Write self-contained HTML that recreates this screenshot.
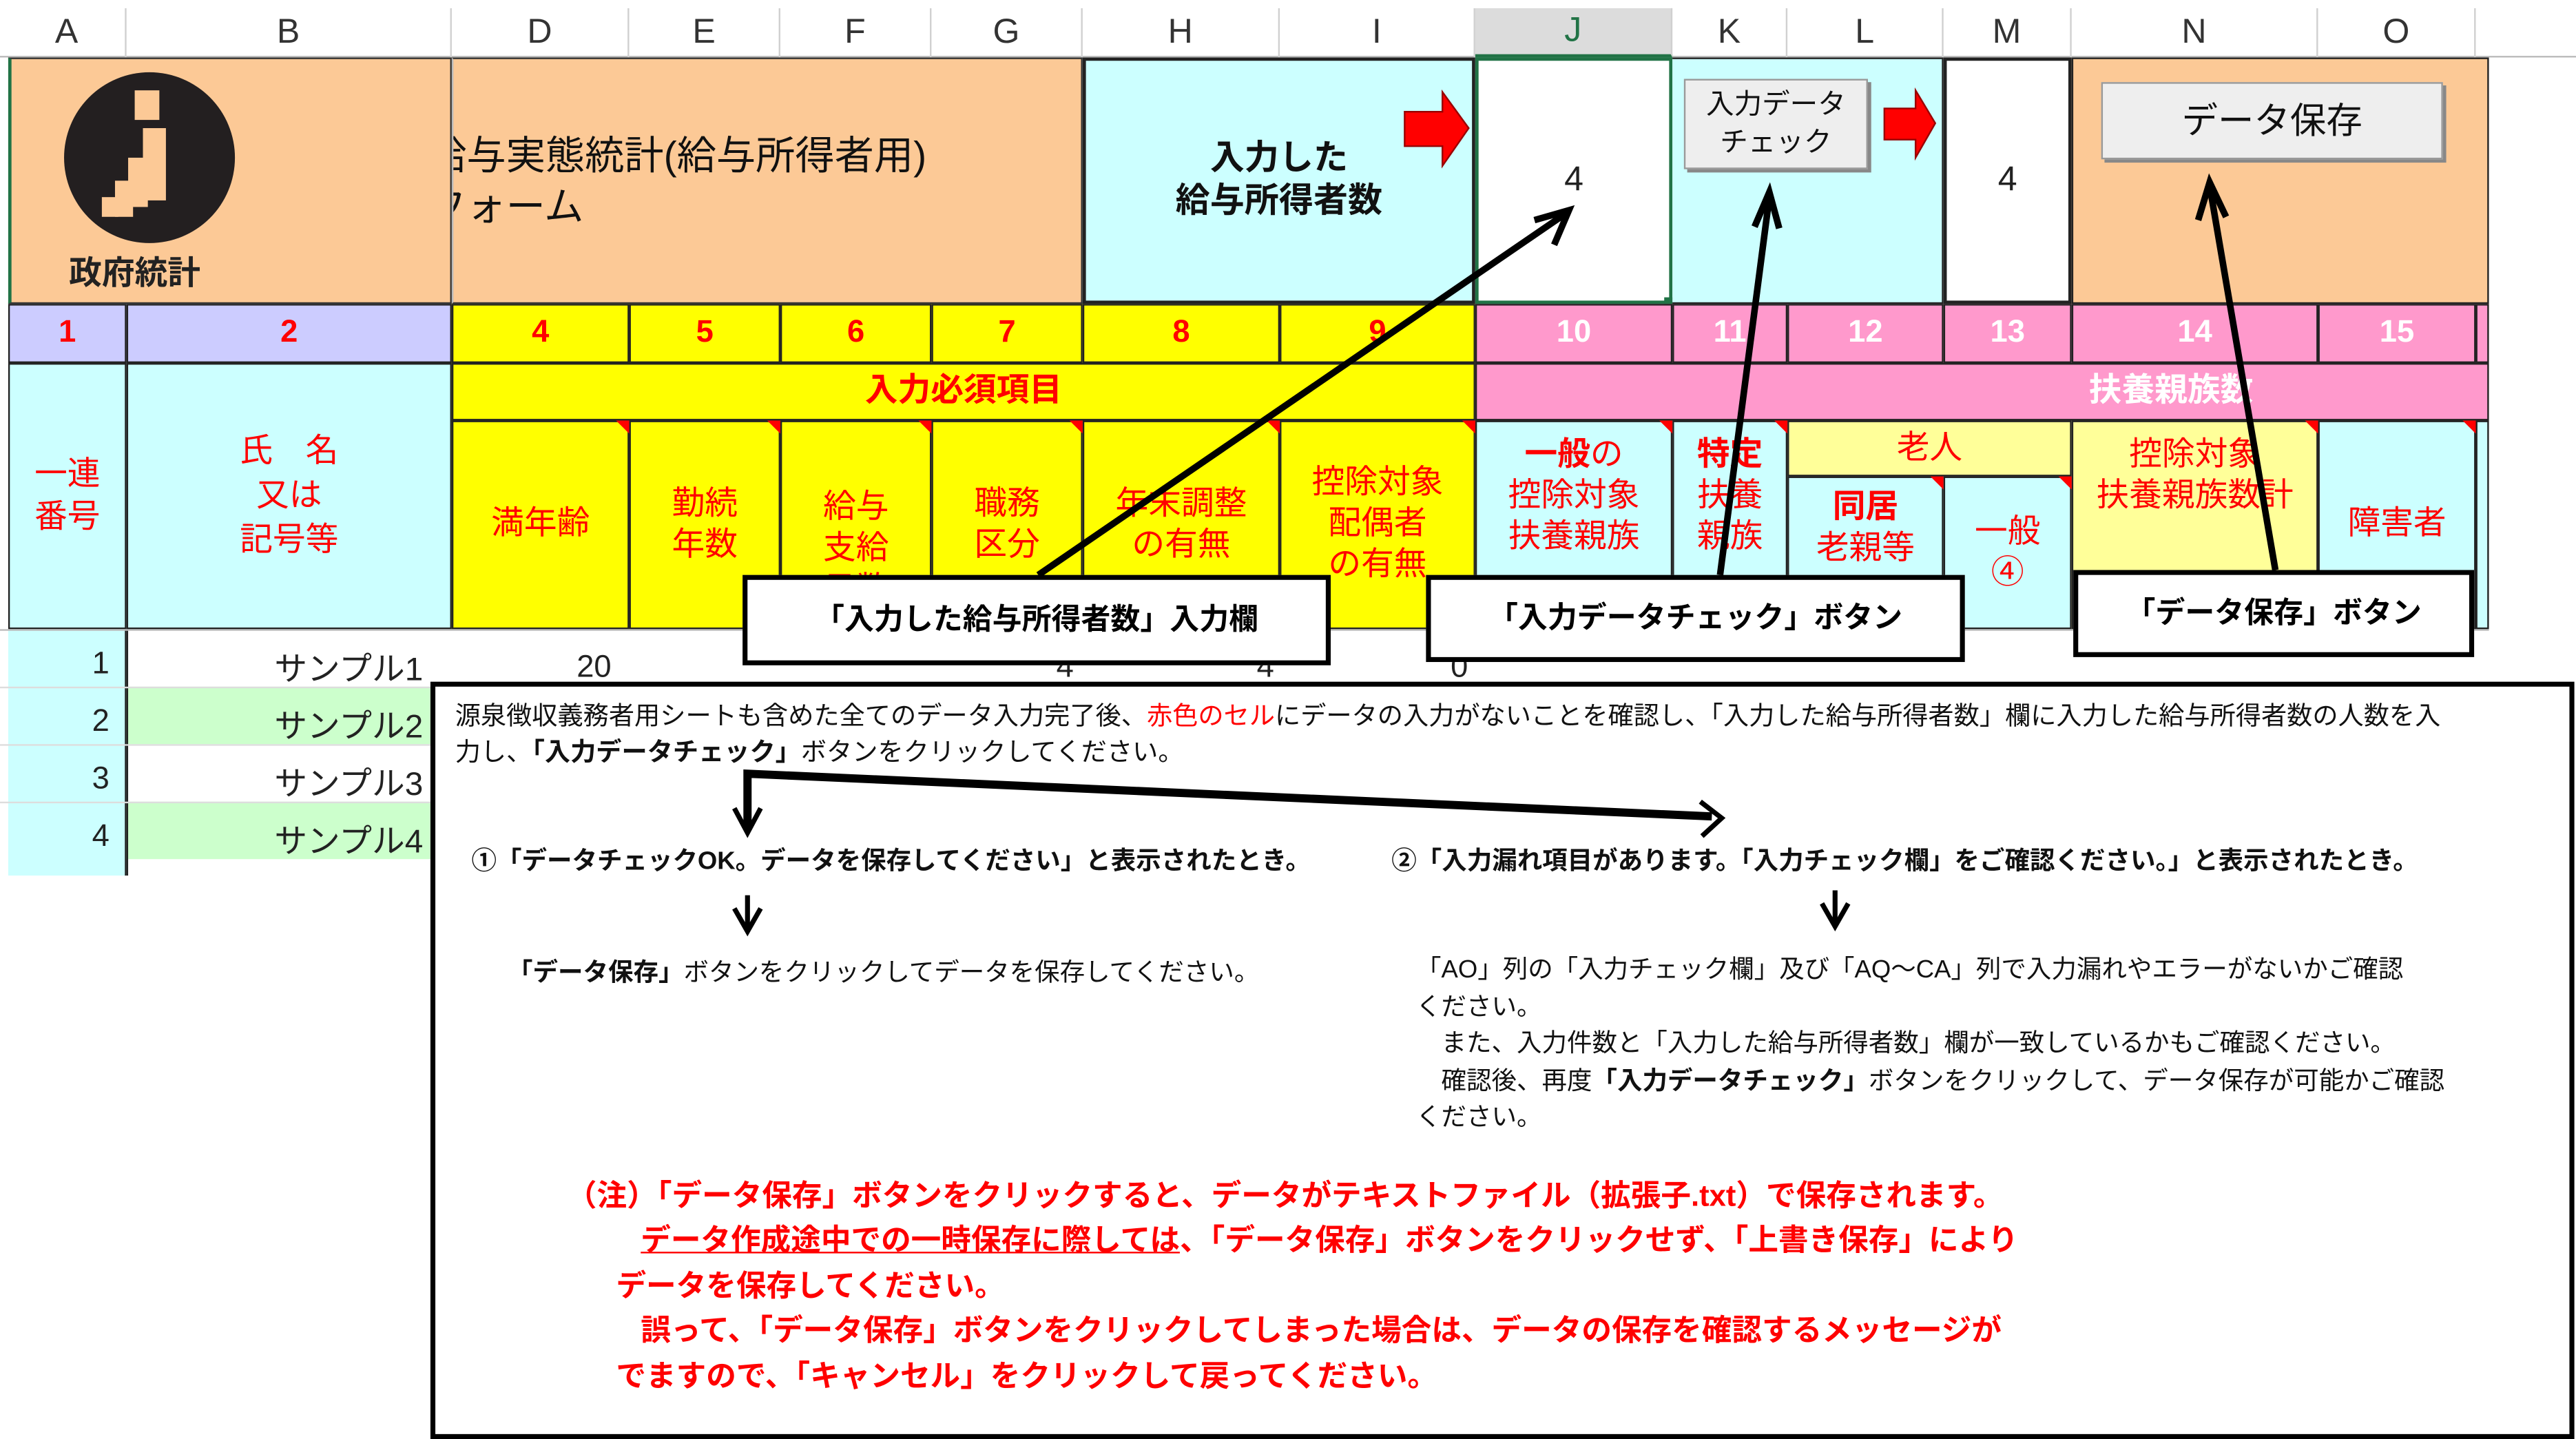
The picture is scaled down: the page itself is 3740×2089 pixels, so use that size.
<!DOCTYPE html>
<html><head><meta charset="utf-8"><style>
html,body{margin:0;padding:0;background:#fff;}
body{width:3740px;height:2089px;overflow:hidden;position:relative;}
#w{position:absolute;left:0;top:0;width:1568px;height:876px;transform:scale(2.3852,2.3847);transform-origin:0 0;font-family:"Liberation Sans","Noto Sans CJK JP",sans-serif;}
.a{position:absolute;box-sizing:border-box;}
.c{display:flex;align-items:center;justify-content:center;text-align:center;line-height:1.25;}
.ch{color:#333;font-size:21px;top:5px;height:30px;border-right:1px solid #d0d0d0;}
.r{color:#f00;}
.num{font-size:19px;font-weight:bold;}
.bd{border:1px solid #222;}
.t{position:absolute;white-space:nowrap;}
.n{position:absolute;white-space:nowrap;font-size:18.3px;font-weight:bold;color:#f00;}
</style></head><body><div id="w">

<div class="a" style="left:0;top:0;width:1568px;height:35px;background:#fff;border-bottom:1px solid #bbb"></div>
<div class="a c ch" style="left:5px;width:72px">A</div>
<div class="a c ch" style="left:77px;width:198px">B</div>
<div class="a c ch" style="left:275px;width:108px">D</div>
<div class="a c ch" style="left:383px;width:92px">E</div>
<div class="a c ch" style="left:475px;width:92px">F</div>
<div class="a c ch" style="left:567px;width:92px">G</div>
<div class="a c ch" style="left:659px;width:120px">H</div>
<div class="a c ch" style="left:779px;width:119px">I</div>
<div class="a c ch" style="left:898px;width:120px;background:#dcdcdc;color:#217346;border-bottom:2px solid #217346">J</div>
<div class="a c ch" style="left:1018px;width:70px">K</div>
<div class="a c ch" style="left:1088px;width:95px">L</div>
<div class="a c ch" style="left:1183px;width:78px">M</div>
<div class="a c ch" style="left:1261px;width:150px">N</div>
<div class="a c ch" style="left:1411px;width:96px">O</div>

<div class="a" style="left:5px;top:35px;width:270px;height:150px;background:#fcc996;border:1px solid #333;border-left:2px solid #217346"></div>
<div class="a" style="left:39px;top:44px;width:104px;height:104px;border-radius:50%;background:#231f20"></div>
<div class="a" style="left:82px;top:55px;width:15px;height:18px;background:#fcc996"></div>
<div class="a" style="left:87px;top:78px;width:14px;height:44px;background:#fcc996"></div>
<div class="a" style="left:78px;top:96px;width:12px;height:30px;background:#fcc996"></div>
<div class="a" style="left:70px;top:110px;width:11px;height:22px;background:#fcc996"></div>
<div class="a" style="left:62px;top:120px;width:10px;height:12px;background:#fcc996"></div>
<div class="t" style="left:42px;top:150px;font-size:20px;font-weight:bold;color:#222">政府統計</div>
<div class="a" style="left:275px;top:35px;width:384px;height:150px;background:#fcc996;border:1px solid #333;border-left:1px solid #bbb;overflow:hidden">
 <div class="t" style="left:-16px;top:44px;font-size:24px;line-height:31px;color:#111">給与実態統計(給与所得者用)<br>フォーム</div></div>
<div class="a c" style="left:659px;top:35px;width:239px;height:150px;background:#ccffff;border:2px solid #222;font-size:21px;font-weight:bold;color:#111">入力した<br>給与所得者数</div>
<div class="a c" style="left:898px;top:35px;width:120px;height:150px;background:#fff;border:2px solid #217346;font-size:21px;color:#222">4</div>
<div class="a" style="left:1013px;top:181px;width:7px;height:7px;background:#217346"></div>
<div class="a" style="left:1018px;top:35px;width:165px;height:150px;background:#ccffff;border:1px solid #222;border-left:none"></div>
<div class="a c" style="left:1025px;top:48px;width:112px;height:55px;background:#eee;border:1px solid #999;box-shadow:2px 2px 0 #888;font-size:17px;color:#111;line-height:1.35">入力データ<br>チェック</div>
<div class="a c" style="left:1183px;top:35px;width:78px;height:150px;background:#fff;border:2px solid #222;font-size:21px;color:#222">4</div>
<div class="a" style="left:1261px;top:35px;width:254px;height:150px;background:#fcc996;border:1px solid #222"></div>
<div class="a c" style="left:1279px;top:50px;width:208px;height:47px;background:#eee;border:1px solid #999;box-shadow:2px 2px 0 #888;font-size:22px;color:#111">データ保存</div>
<svg class="a" style="left:0;top:0" width="1568" height="876">
<polygon points="855,68 878,68 878,56 894,78 878,101 878,89 855,89" fill="#f00" stroke="#900" stroke-width="1"/>
<polygon points="1147,66 1166,66 1166,55 1178,75 1166,96 1166,85 1147,85" fill="#f00" stroke="#900" stroke-width="1"/>
</svg>

<div class="a c r num bd" style="left:5px;top:185px;width:72px;height:36px;background:#ccccff">1</div>
<div class="a c r num bd" style="left:77px;top:185px;width:198px;height:36px;background:#ccccff">2</div>
<div class="a c r num bd" style="left:275px;top:185px;width:108px;height:36px;background:#ff0">4</div>
<div class="a c r num bd" style="left:383px;top:185px;width:92px;height:36px;background:#ff0">5</div>
<div class="a c r num bd" style="left:475px;top:185px;width:92px;height:36px;background:#ff0">6</div>
<div class="a c r num bd" style="left:567px;top:185px;width:92px;height:36px;background:#ff0">7</div>
<div class="a c r num bd" style="left:659px;top:185px;width:120px;height:36px;background:#ff0">8</div>
<div class="a c r num bd" style="left:779px;top:185px;width:119px;height:36px;background:#ff0">9</div>
<div class="a c num bd" style="left:898px;top:185px;width:120px;height:36px;background:#ff99cc;color:#fff">10</div>
<div class="a c num bd" style="left:1018px;top:185px;width:70px;height:36px;background:#ff99cc;color:#fff">11</div>
<div class="a c num bd" style="left:1088px;top:185px;width:95px;height:36px;background:#ff99cc;color:#fff">12</div>
<div class="a c num bd" style="left:1183px;top:185px;width:78px;height:36px;background:#ff99cc;color:#fff">13</div>
<div class="a c num bd" style="left:1261px;top:185px;width:150px;height:36px;background:#ff99cc;color:#fff">14</div>
<div class="a c num bd" style="left:1411px;top:185px;width:96px;height:36px;background:#ff99cc;color:#fff">15</div>
<div class="a bd" style="left:1507px;top:185px;width:8px;height:36px;background:#ff99cc"></div>

<div class="a c r bd" style="left:5px;top:221px;width:72px;height:162px;background:#ccffff;font-size:20px;line-height:1.3">一連<br>番号</div>
<div class="a c r bd" style="left:77px;top:221px;width:198px;height:162px;background:#ccffff;font-size:20px;line-height:1.35">氏　名<br>又は<br>記号等</div>
<div class="a c r bd" style="left:275px;top:221px;width:623px;height:35px;background:#ff0;font-size:20px;font-weight:bold">入力必須項目</div>
<div class="a c bd" style="left:898px;top:221px;width:617px;height:35px;background:#ff99cc;font-size:20px;font-weight:bold;color:#fff;padding-left:230px">扶養親族数</div>

<div class="a c r bd" style="left:275px;top:256px;width:108px;height:127px;background:#ff0;font-size:20px">満年齢</div>
<div class="a c r bd" style="left:383px;top:256px;width:92px;height:127px;background:#ff0;font-size:20px">勤続<br>年数</div>
<div class="a c r bd" style="left:475px;top:256px;width:92px;height:127px;background:#ff0;font-size:20px;padding-top:30px;overflow:hidden">給与<br>支給<br>日数</div>
<div class="a c r bd" style="left:567px;top:256px;width:92px;height:127px;background:#ff0;font-size:20px">職務<br>区分</div>
<div class="a c r bd" style="left:659px;top:256px;width:120px;height:127px;background:#ff0;font-size:20px">年末調整<br>の有無</div>
<div class="a c r bd" style="left:779px;top:256px;width:119px;height:127px;background:#ff0;font-size:20px">控除対象<br>配偶者<br>の有無</div>
<div class="a c r bd" style="left:898px;top:256px;width:120px;height:127px;background:#ccffff;font-size:20px;align-items:flex-start;padding-top:8px"><span><b>一般</b>の<br>控除対象<br>扶養親族</span></div>
<div class="a c r bd" style="left:1018px;top:256px;width:70px;height:127px;background:#ccffff;font-size:20px;align-items:flex-start;padding-top:8px"><span><b>特定</b><br>扶養<br>親族</span></div>
<div class="a c r bd" style="left:1088px;top:256px;width:173px;height:34px;background:#ffff99;font-size:20px">老人</div>
<div class="a c r bd" style="left:1088px;top:290px;width:95px;height:93px;background:#ccffff;font-size:20px;align-items:flex-start;padding-top:6px"><span><b>同居</b><br>老親等</span></div>
<div class="a c r bd" style="left:1183px;top:290px;width:78px;height:93px;background:#ccffff;font-size:20px">一般<br>④</div>
<div class="a c r bd" style="left:1261px;top:256px;width:150px;height:127px;background:#ffff99;font-size:20px;align-items:flex-start;padding-top:8px">控除対象<br>扶養親族数計</div>
<div class="a c r bd" style="left:1411px;top:256px;width:96px;height:127px;background:#ccffff;font-size:20px">障害者</div>
<div class="a bd" style="left:1507px;top:256px;width:8px;height:127px;background:#ccffff"></div>
<svg class="a" style="left:0;top:0" width="1568" height="876">
<g fill="#f00"><polygon points="375,256 383,256 383,264"/><polygon points="467,256 475,256 475,264"/><polygon points="559,256 567,256 567,264"/><polygon points="651,256 659,256 659,264"/><polygon points="771,256 779,256 779,264"/><polygon points="890,256 898,256 898,264"/><polygon points="1010,256 1018,256 1018,264"/><polygon points="1080,256 1088,256 1088,264"/><polygon points="1175,290 1183,290 1183,298"/><polygon points="1253,290 1261,290 1261,298"/><polygon points="1403,256 1411,256 1411,264"/><polygon points="1499,256 1507,256 1507,264"/></g>
</svg>

<div class="a" style="left:5px;top:383px;width:72px;height:150px;background:#ccffff;border-right:1px solid #222"></div>
<div class="a" style="left:77px;top:418px;width:185px;height:35px;background:#ccffcc"></div>
<div class="a" style="left:77px;top:488px;width:185px;height:35px;background:#ccffcc"></div>
<div class="a" style="left:77px;top:383px;width:1px;height:150px;background:#222"></div>
<div class="a" style="left:0;top:383px;width:1515px;height:1px;background:#bbb"></div>
<div class="a" style="left:0;top:418px;width:262px;height:1px;background:#ddd"></div>
<div class="a" style="left:0;top:453px;width:262px;height:1px;background:#ddd"></div>
<div class="a" style="left:0;top:488px;width:262px;height:1px;background:#ddd"></div>
<div class="t" style="left:56px;top:394px;font-size:19px;color:#222">1</div>
<div class="t" style="left:56px;top:429px;font-size:19px;color:#222">2</div>
<div class="t" style="left:56px;top:464px;font-size:19px;color:#222">3</div>
<div class="t" style="left:56px;top:499px;font-size:19px;color:#222">4</div>
<div class="t" style="left:167px;top:391px;font-size:20px;color:#222">サンプル1</div>
<div class="t" style="left:167px;top:426px;font-size:20px;color:#222">サンプル2</div>
<div class="t" style="left:167px;top:461px;font-size:20px;color:#222">サンプル3</div>
<div class="t" style="left:167px;top:496px;font-size:20px;color:#222">サンプル4</div>
<div class="t" style="left:351px;top:396px;font-size:19px;color:#222">20</div>
<div class="t" style="left:643px;top:396px;font-size:19px;color:#222">4</div>
<div class="t" style="left:765px;top:396px;font-size:19px;color:#222">4</div>
<div class="t" style="left:883px;top:396px;font-size:19px;color:#222">0</div>

<div class="a c" style="left:452px;top:350px;width:358px;height:55px;background:#fff;border:3px solid #000;font-size:18px;font-weight:bold">「入力した給与所得者数」入力欄</div>
<div class="a c" style="left:868px;top:350px;width:328px;height:53px;background:#fff;border:3px solid #000;font-size:18px;font-weight:bold">「入力データチェック」ボタン</div>
<div class="a c" style="left:1262px;top:347px;width:244px;height:53px;background:#fff;border:3px solid #000;font-size:18px;font-weight:bold">「データ保存」ボタン</div>
<svg class="a" style="left:0;top:0" width="1568" height="876" fill="none" stroke="#000" stroke-width="4">
<line x1="632" y1="350" x2="953" y2="130"/><polyline points="934,134 955,128 946,149"/>
<line x1="1047" y1="350" x2="1077" y2="120"/><polyline points="1068,138 1077,117 1083,139"/>
<line x1="1385" y1="347" x2="1345" y2="113"/><polyline points="1338,134 1345,111 1355,132"/>
</svg>

<div class="a" style="left:262px;top:415px;width:1305px;height:461px;background:#fff;border:3px solid #000"></div>
<div class="t" style="left:277px;top:424px;font-size:15.6px;color:#111">源泉徴収義務者用シートも含めた全てのデータ入力完了後、<span style="color:#f00">赤色のセル</span>にデータの入力がないことを確認し、「入力した給与所得者数」欄に入力した給与所得者数の人数を入</div>
<div class="t" style="left:277px;top:446px;font-size:15.6px;color:#111">力し、<b>「入力データチェック」</b>ボタンをクリックしてください。</div>
<svg class="a" style="left:0;top:0" width="1568" height="876" fill="none" stroke="#000">
<polyline points="455,505 455,471 1042,497" stroke-width="5"/>
<polyline points="1035,488 1048,498 1036,509" stroke-width="3"/>
<polyline points="447,492 455,507 463,492" stroke-width="3"/>
<line x1="455" y1="545" x2="455" y2="566" stroke-width="3"/><polyline points="447,553 455,567 463,553" stroke-width="3"/>
<line x1="1117" y1="542" x2="1117" y2="563" stroke-width="3"/><polyline points="1109,550 1117,564 1125,550" stroke-width="3"/>
</svg>
<div class="t" style="left:287px;top:512px;font-size:15.3px;font-weight:bold;color:#111">①「データチェックOK。データを保存してください」と表示されたとき。</div>
<div class="t" style="left:847px;top:512px;font-size:15.3px;font-weight:bold;color:#111">②「入力漏れ項目があります。「入力チェック欄」をご確認ください。」と表示されたとき。</div>
<div class="t" style="left:309px;top:580px;font-size:15.3px;color:#111"><b>「データ保存」</b>ボタンをクリックしてデータを保存してください。</div>
<div class="t" style="left:862px;top:580px;font-size:15.3px;line-height:22.6px;color:#111">「AO」列の「入力チェック欄」及び「AQ～CA」列で入力漏れやエラーがないかご確認<br>ください。<br>　また、入力件数と「入力した給与所得者数」欄が一致しているかもご確認ください。<br>　確認後、再度<b>「入力データチェック」</b>ボタンをクリックして、データ保存が可能かご確認<br>ください。</div>
<div class="n" style="left:345px;top:714px">（注）「データ保存」ボタンをクリックすると、データがテキストファイル（拡張子.txt）で保存されます。</div>
<div class="n" style="left:390px;top:741px"><u>データ作成途中での一時保存に際しては</u>、「データ保存」ボタンをクリックせず、「上書き保存」により</div>
<div class="n" style="left:375px;top:769px">データを保存してください。</div>
<div class="n" style="left:390px;top:796px">誤って、「データ保存」ボタンをクリックしてしまった場合は、データの保存を確認するメッセージが</div>
<div class="n" style="left:375px;top:824px">でますので、「キャンセル」をクリックして戻ってください。</div>

</div></body></html>
